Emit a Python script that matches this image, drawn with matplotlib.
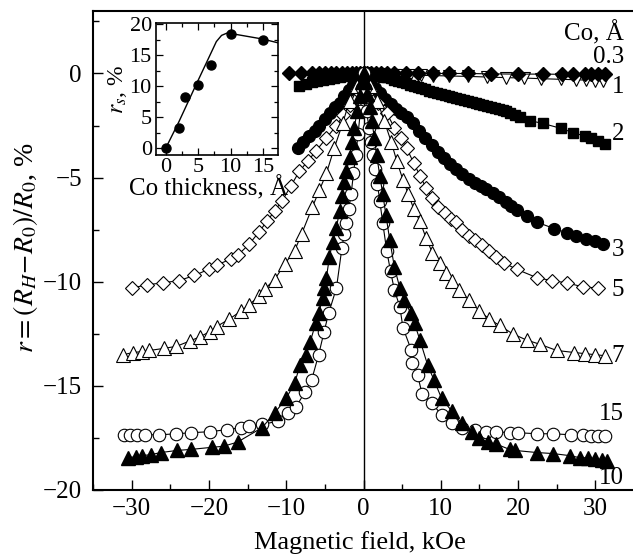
import matplotlib
matplotlib.use('Agg')
import matplotlib.pyplot as plt
from matplotlib.ticker import MultipleLocator

plt.rcParams['font.family'] = ['Liberation Serif', 'DejaVu Serif']
plt.rcParams['mathtext.fontset'] = 'stix'

# ---------------- data ----------------
# Co 0.3 A (filled diamonds)
x03 = [-9.6, -8.1, -6.7, -5.8, -5.0, -4.2, -3.5, -2.8, -2.1, -1.5, -1.0, -0.5, 0.0,
       0.5, 1.0, 1.6, 2.3, 3.0, 4.0, 5.5, 7.0, 9.0, 11.0, 13.5, 16.5, 20.0, 23.2,
       25.7, 27.1, 28.6, 29.5, 30.3, 31.2]
y03 = [0.0, 0.0, 0.0, 0.0, 0.0, 0.0, 0.0, 0.0, 0.0, 0.0, 0.0, 0.0, 0.0,
       0.0, 0.0, 0.0, 0.0, 0.0, 0.0, 0.0, 0.0, 0.0, 0.0, 0.0, -0.02, -0.03, -0.03,
       -0.04, -0.04, -0.04, -0.04, -0.04, -0.04]

# Co 1 A (open down triangles)
x1 = [0.3, 0.8, 1.3, 1.9, 2.5, 3.2, 4.0, 5.0, 6.0, 7.5, 9.0, 11.0, 13.5, 16.0,
      18.5, 20.8, 23.0, 25.5, 27.5, 28.8, 30.0, 31.0]
y1 = [0.0, -0.01, -0.02, -0.03, -0.04, -0.05, -0.06, -0.07, -0.08, -0.09, -0.1,
      -0.12, -0.14, -0.17, -0.2, -0.22, -0.25, -0.28, -0.3, -0.32, -0.34, -0.35]

# Co 2 A (filled squares)
x2 = [-8.3, -7.5, -6.7, -6.0, -5.2, -4.5, -3.8, -3.1, -2.4, -1.7, -1.0, -0.4, 0.0,
      0.5, 1.0, 1.5, 2.0, 2.5, 3.0, 3.5, 4.0, 4.5, 5.0, 5.5, 6.0, 6.5, 7.0, 7.5, 8.0,
      8.5, 9.0, 9.5, 10.0, 10.5, 11.0, 11.5, 12.0, 12.5, 13.0, 13.5, 14.0, 14.5,
      15.0, 15.5, 16.0, 16.5, 17.0, 17.5, 18.0, 18.5, 19.0, 19.6, 20.3, 21.5,
      23.2, 25.6, 27.1, 28.6, 29.5, 30.3, 31.2]
y2 = [-0.58, -0.5, -0.43, -0.37, -0.31, -0.25, -0.2, -0.15, -0.1, -0.06, -0.03, -0.01, 0.0,
      -0.02, -0.05, -0.08, -0.12, -0.15, -0.19, -0.24, -0.3, -0.36, -0.42, -0.47,
      -0.53, -0.59, -0.65, -0.7, -0.76, -0.82, -0.87, -0.93, -0.98, -1.04, -1.09,
      -1.14, -1.19, -1.24, -1.28, -1.33, -1.37, -1.41, -1.45, -1.5, -1.55, -1.6,
      -1.65, -1.7, -1.75, -1.82, -1.9, -2.0, -2.1, -2.26, -2.4, -2.64, -2.84, -3.0,
      -3.1, -3.22, -3.37]

# Co 3 A (filled circles)
x3 = [-8.5, -7.8, -7.0, -6.3, -5.7, -5.0, -4.3, -3.7, -3.1, -2.5, -1.9, -1.3, -0.9, -0.4, 0.0,
      0.4, 0.9, 1.5, 2.1, 2.8, 3.5, 4.2, 4.9, 5.6, 6.4, 7.2, 8.0, 8.8, 9.6, 10.4, 11.2,
      12.0, 12.8, 13.6, 14.4, 15.2, 15.9, 16.7, 17.5, 18.4, 19.1, 19.8, 21.2, 22.5,
      24.7, 26.3, 27.5, 28.8, 29.9, 31.0]
y3 = [-3.6, -3.3, -3.0, -2.75, -2.5, -2.2, -1.9, -1.6, -1.4, -1.1, -0.8, -0.55, -0.33, -0.12, 0.0,
      -0.15, -0.38, -0.68, -0.96, -1.22, -1.48, -1.7, -1.9, -2.1, -2.4, -2.75, -3.1, -3.45,
      -3.75, -4.05, -4.35, -4.6, -4.85, -5.05, -5.25, -5.4, -5.55, -5.75, -5.95, -6.15,
      -6.35, -6.55, -6.85, -7.15, -7.45, -7.65, -7.8, -7.95, -8.05, -8.2]

# Co 5 A (open diamonds)
x5 = [-30.0, -28.0, -26.0, -23.9, -21.9, -20.0, -19.0, -17.1, -16.2, -14.8, -13.5, -12.5,
      -11.5, -10.5, -9.4, -8.3, -7.2, -6.1, -4.8, -3.5, -2.6, -1.8, -0.9, 0.0,
      0.9, 1.9, 3.0, 4.0, 4.8, 5.6, 6.5, 7.3, 8.1, 8.9, 9.7, 10.5, 11.3, 12.0, 12.8,
      13.6, 14.4, 15.3, 16.3, 17.2, 18.2, 19.8, 22.4, 24.4, 26.3, 28.4, 30.3]
y5 = [-10.3, -10.15, -10.05, -9.95, -9.7, -9.4, -9.2, -8.9, -8.7, -8.2, -7.6, -7.1,
      -6.6, -6.1, -5.4, -4.7, -4.2, -3.7, -3.1, -2.5, -2.0, -1.5, -0.8, 0.0,
      -0.8, -1.4, -1.9, -2.6, -3.1, -3.6, -4.3, -4.9, -5.5, -6.0, -6.4, -6.7, -7.0,
      -7.15, -7.5, -7.8, -8.0, -8.25, -8.5, -8.8, -9.1, -9.4, -9.8, -9.95, -10.05,
      -10.25, -10.3]

# Co 7 A (open up triangles)
x7 = [-31.1, -29.8, -28.6, -27.7, -25.8, -24.2, -22.5, -21.2, -19.9, -19.0, -17.4, -15.8,
      -14.8, -13.5, -12.8, -11.5, -10.2, -8.9, -8.0, -6.6, -5.7, -4.8, -3.8, -2.7, -1.8,
      -0.9, 0.0,
      0.9, 1.8, 2.7, 3.6, 4.3, 5.1, 5.8, 6.5, 7.3, 8.1, 8.9, 9.9, 10.7, 11.5, 12.4,
      13.7, 15.0, 16.3, 17.6, 19.3, 21.1, 22.8, 25.0, 27.3, 28.6, 29.9, 31.2]
y7 = [-13.5, -13.4, -13.35, -13.3, -13.2, -13.1, -12.85, -12.65, -12.4, -12.15, -11.8, -11.4,
      -11.1, -10.7, -10.35, -9.9, -9.15, -8.5, -7.7, -6.4, -5.6, -4.8, -3.6, -2.4, -1.3,
      -0.6, 0.0,
      -0.6, -1.3, -2.3, -3.3, -4.2, -5.1, -5.8, -6.5, -7.1, -7.9, -8.6, -9.1, -9.6,
      -9.95, -10.4, -10.9, -11.4, -11.8, -12.1, -12.5, -12.8, -13.0, -13.3, -13.4,
      -13.45, -13.5, -13.55]

# Co 15 A (open circles)
x15 = [-31.0, -30.2, -29.3, -28.3, -26.4, -24.2, -22.3, -19.9, -17.6, -15.8, -14.8, -13.1,
       -11.1, -9.8, -8.7, -7.6, -6.7, -5.8, -5.1, -4.5, -3.5, -2.8, -2.5, -2.2, -1.9,
       -1.6, -1.3, -1.0, -0.7, -0.4, -0.15, 0.0,
       0.15, 0.4, 0.7, 1.0, 1.2, 1.5, 1.8, 2.1, 2.5, 3.0, 3.5, 4.0, 4.7, 5.1, 6.2,
       6.3, 7.0, 7.6, 8.8, 10.1, 11.4, 12.8, 14.4, 15.9, 17.2, 18.9, 20.0, 22.5,
       24.5, 26.9, 28.4, 29.5, 30.3, 31.2]
y15 = [-17.35, -17.35, -17.35, -17.35, -17.35, -17.3, -17.25, -17.2, -17.1, -17.0, -16.95, -16.85,
       -16.7, -16.3, -16.0, -15.3, -14.7, -13.5, -12.4, -11.5, -10.3, -8.4, -7.7, -7.2, -6.5,
       -5.8, -4.8, -3.9, -2.9, -1.8, -0.7, 0.0,
       -0.7, -1.8, -2.6, -3.3, -3.9, -4.6, -5.3, -6.1, -7.2, -8.5, -9.5, -10.4, -11.2,
       -12.2, -13.3, -13.9, -14.5, -15.4, -15.8, -16.4, -16.8, -17.0, -17.1, -17.2,
       -17.2, -17.25, -17.25, -17.3, -17.3, -17.35, -17.35, -17.4, -17.4, -17.4]

# Co 10 A (filled up triangles)
x10 = [-30.5, -29.4, -28.6, -27.5, -26.2, -24.1, -22.3, -19.6, -18.1, -16.3, -13.1, -11.5,
       -10.0, -8.9, -8.2, -7.4, -6.9, -6.2, -5.8, -5.3, -5.1, -4.8, -4.4, -4.0, -3.5,
       -3.1, -2.8, -2.5, -2.2, -1.8, -1.5, -1.2, -0.8, -0.5, -0.2, 0.0,
       0.2, 0.5, 0.8, 1.1, 1.4, 1.7, 2.1, 2.5, 2.9, 3.4, 4.0, 4.7, 5.3, 6.1, 6.6,
       7.3, 8.3, 9.1, 10.1, 11.4, 12.7, 14.0, 15.0, 16.1, 17.2, 18.9, 19.6, 22.4,
       24.5, 26.7, 28.0, 29.0, 29.9, 30.8, 31.5]
y10 = [-18.45, -18.4, -18.35, -18.3, -18.2, -18.1, -18.05, -17.95, -17.9, -17.7, -17.0, -16.3,
       -15.6, -14.85, -14.0, -13.5, -12.9, -12.0, -11.5, -10.8, -10.3, -9.8, -8.8, -8.1, -7.4,
       -6.6, -5.9, -5.2, -4.7, -4.0, -3.3, -2.6, -1.8, -1.1, -0.4, 0.0,
       -0.4, -1.0, -1.6, -2.3, -3.1, -3.9, -4.9, -5.8, -6.8, -8.0, -9.3, -10.3, -10.9,
       -11.5, -12.0, -12.8, -14.0, -14.7, -15.6, -16.2, -16.8, -17.2, -17.5, -17.7,
       -17.8, -18.05, -18.1, -18.2, -18.25, -18.35, -18.45, -18.45, -18.5, -18.55, -18.6]

# Inset: saturation MR vs Co thickness
ins_thick = [0, 2, 3, 5, 7, 10, 15]
ins_rs = [0.0, 3.3, 8.2, 10.2, 13.5, 18.5, 17.5]
fit_thick = [0.0, 2.0, 4.7, 6.5, 7.8, 8.6, 9.5, 15.0, 17.3]
fit_rs = [0.0, 4.2, 10.3, 14.3, 17.2, 18.2, 18.6, 17.6, 17.0]

series_labels = ['0.3', '1', '2', '3', '5', '7', '15', '10']
label_y = [0.77, -0.67, -2.9, -8.5, -10.4, -13.55, -16.35, -19.4]

# ---------------- figure ----------------
fig = plt.figure(figsize=(6.33, 5.59), dpi=100)
ax = fig.add_axes([93/633, 1-490/559, (634-93)/633, (490-11)/559])

lw = 0.8
k = 'black'
ax.axvline(0, color=k, lw=1.0, zorder=1)
ax.plot(x03, y03, '-', color=k, lw=lw, marker='D', ms=7, mfc=k, mec=k, zorder=3)
ax.plot(x1, y1, '-', color=k, lw=lw, marker='v', ms=9, mfc='white', mec=k, mew=0.8, zorder=2)
ax.plot(x2, y2, '-', color=k, lw=lw, marker='s', ms=7, mfc=k, mec=k, zorder=3)
ax.plot(x3, y3, '-', color=k, lw=lw, marker='o', ms=8.5, mfc=k, mec=k, zorder=3)
ax.plot(x5, y5, '-', color=k, lw=lw, marker='D', ms=7.5, mfc='white', mec=k, mew=0.8, zorder=3)
ax.plot(x7, y7, '-', color=k, lw=lw, marker='^', ms=9.5, mfc='white', mec=k, mew=0.8, zorder=3)
ax.plot(x15, y15, '-', color=k, lw=lw, marker='o', ms=9, mfc='white', mec=k, mew=0.8, zorder=3)
ax.plot(x10, y10, '-', color=k, lw=lw, marker='^', ms=9.5, mfc=k, mec=k, zorder=4)

ax.set_xlim(-35, 35)
ax.set_ylim(-20, 3)
ax.xaxis.set_major_locator(MultipleLocator(10))
ax.xaxis.set_minor_locator(MultipleLocator(5))
ax.yaxis.set_major_locator(MultipleLocator(5))
ax.yaxis.set_minor_locator(MultipleLocator(2.5))
ax.tick_params(which='both', direction='in', top=False, right=False, labelsize=18)
ax.tick_params(which='major', length=7, width=1.0)
ax.tick_params(which='minor', length=4.5, width=1.0)
ax.tick_params(axis='x', pad=6)
ax.tick_params(axis='y', pad=8)
for s in ax.spines.values():
    s.set_linewidth(1.5)
ax.spines['right'].set_visible(False)

ax.set_xticks([-30, -20, -10, 0, 10, 20, 30])
ax.set_xticklabels(['\u221230', '\u221220', '\u221210', '0', '10', '20', '30'])
ax.set_yticks([0, -5, -10, -15, -20])
ax.set_yticklabels(['0', '\u22125', '\u221210', '\u221215', '\u221220'])

ax.set_xlabel('Magnetic field, kOe', fontsize=19)
ax.xaxis.set_label_coords(0.494, -0.086)
ax.set_ylabel(r'$r=(R_H\!-\!R_0)/R_0$, %', fontsize=20)
ax.yaxis.set_label_coords(-0.098, 0.505)

ax.text(33.7, 1.92, 'Co, \u00c5', ha='right', va='center', fontsize=18)
for lab, yy in zip(series_labels, label_y):
    ax.text(33.7, yy, lab, ha='right', va='center', fontsize=18)

# ---------------- inset ----------------
ai = fig.add_axes([156/633, 1-155/559, 122/633, 132/559])
ai.plot(fit_thick, fit_rs, '-', color=k, lw=1.0)
ai.plot(ins_thick, ins_rs, 'o', color=k, ms=6.5, clip_on=False)
ai.set_xlim(-1.5, 17.3)
ai.set_ylim(-1.1, 20.2)
ai.xaxis.set_major_locator(MultipleLocator(5))
ai.xaxis.set_minor_locator(MultipleLocator(2.5))
ai.yaxis.set_major_locator(MultipleLocator(5))
ai.yaxis.set_minor_locator(MultipleLocator(2.5))
ai.tick_params(which='both', direction='in', top=True, right=True, labelsize=16)
ai.tick_params(which='major', length=5, width=0.9)
ai.tick_params(which='minor', length=3, width=0.9)
ai.tick_params(axis='x', pad=2)
ai.tick_params(axis='y', pad=3)
for s in ai.spines.values():
    s.set_linewidth(1.2)
ai.set_xlabel('Co thickness, \u00c5', fontsize=18)
ai.xaxis.set_label_coords(0.43, -0.16)
ai.set_ylabel(r'$r_s$, %', fontsize=17)
ai.yaxis.set_label_coords(-0.22, 0.5)

fig.savefig('out.png', dpi=100)
